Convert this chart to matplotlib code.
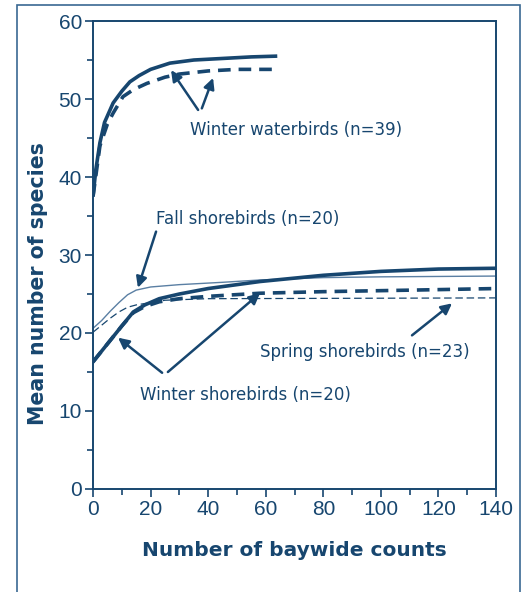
import numpy as np
from matplotlib import pyplot as plt
from matplotlib.patches import Rectangle

navy = '#17466f'

# Winter waterbirds (n=39)
ww_x = [0, 1, 2.4, 4, 7, 10, 12.8, 16, 20, 26.7, 35, 45, 55, 64]
ww_solid = [37.5, 41, 44.4, 47, 49.5, 51, 52.2, 53, 53.8, 54.6, 55, 55.2, 55.4, 55.5]
ww_dash_x = [0, 2.4, 5, 7, 10.4, 14, 18.7, 25, 30, 40, 50, 64]
ww_dash = [37.5, 44, 46.8, 48.2, 50.3, 51.2, 52, 52.8, 53.2, 53.6, 53.8, 53.8]

# Winter shorebirds (n=20)
ws_x = [0, 5, 10, 14, 18, 23, 30, 40, 58, 80, 100, 120, 140]
ws_solid = [16.3, 18.6, 20.9, 22.7, 23.6, 24.4, 25.0, 25.7, 26.6, 27.4, 27.9, 28.2, 28.3]
ws_dash_x = [0, 5, 10, 14, 18, 23, 30, 40, 58, 80, 111, 140]
ws_dash = [16.3, 18.6, 20.9, 22.6, 23.4, 24.0, 24.4, 24.7, 25.1, 25.3, 25.5, 25.7]

# Fall shorebirds (n=20)
fs_x = [0, 3, 6, 9, 12, 15, 20, 30, 45, 58, 80, 100, 140]
fs_y = [20.6, 21.6, 22.8, 23.9, 24.9, 25.5, 25.9, 26.2, 26.5, 26.8, 27.1, 27.2, 27.3]

# Spring shorebirds (n=23)
ss_x = [0, 3, 6, 9, 12, 15, 20, 25, 40, 140]
ss_y = [20.1, 21.0, 21.9, 22.7, 23.3, 23.6, 23.9, 24.2, 24.4, 24.5]

fig = plt.figure(figsize=(5.3, 5.92), dpi=100)
ax = fig.add_axes([0.1755, 0.174, 0.7605, 0.7905])

# outer frame
fig.patches.append(Rectangle((17 / 530, -0.05), 503 / 530, 1.05 - 5 / 592,
                             transform=fig.transFigure, fill=False,
                             edgecolor='#3a6892', linewidth=1.2))

ax.plot(ww_x, ww_solid, color=navy, linewidth=2.6, solid_capstyle='butt')
ax.plot(ww_dash_x, ww_dash, color=navy, linewidth=2.6, linestyle=(0, (3.5, 2.2)))
ax.plot(fs_x, fs_y, color='#5a7fa3', linewidth=1.0)
ax.plot(ss_x, ss_y, color=navy, linewidth=0.9, linestyle=(0, (6, 3)))
ax.plot(ws_x, ws_solid, color=navy, linewidth=2.6)
ax.plot(ws_dash_x, ws_dash, color=navy, linewidth=2.6, linestyle=(0, (3.5, 2.2)))

arrow = dict(arrowstyle='-|>', color=navy, lw=1.8, mutation_scale=16, shrinkA=0, shrinkB=0)
fs = 12

ax.text(33.7, 46.0, 'Winter waterbirds (n=39)', color=navy, fontsize=fs, va='center')
ax.annotate('', xy=(27.1, 53.7), xytext=(36.5, 48.6), arrowprops=arrow)
ax.annotate('', xy=(41.7, 52.7), xytext=(37.8, 48.8), arrowprops=arrow)

ax.text(21.9, 34.6, 'Fall shorebirds (n=20)', color=navy, fontsize=fs, va='center')
ax.annotate('', xy=(15.6, 25.8), xytext=(21.9, 33.0), arrowprops=arrow)

ax.text(58, 17.6, 'Spring shorebirds (n=23)', color=navy, fontsize=fs, va='center')
ax.annotate('', xy=(124.7, 23.8), xytext=(110.8, 19.7), arrowprops=arrow)

ax.text(16.3, 12.1, 'Winter shorebirds (n=20)', color=navy, fontsize=fs, va='center')
ax.annotate('', xy=(8.7, 19.4), xytext=(24, 14.9), arrowprops=arrow)
ax.annotate('', xy=(58, 25.1), xytext=(26, 15.0), arrowprops=arrow)

ax.set_xlim(0, 140)
ax.set_ylim(0, 60)
ax.set_xticks(np.arange(0, 141, 20))
ax.set_xticks(np.arange(0, 141, 10), minor=True)
ax.set_yticks(np.arange(0, 61, 10))
ax.set_yticks(np.arange(0, 61, 5), minor=True)
ax.tick_params(which='both', direction='out', color=navy, width=1.2)
ax.tick_params(which='major', length=6, labelsize=15, labelcolor=navy, pad=2)
ax.tick_params(which='minor', length=4)
for lab in ax.get_xticklabels() + ax.get_yticklabels():
    lab.set_family('Liberation Sans')
for s in ax.spines.values():
    s.set_color(navy)
    s.set_linewidth(1.4)

ax.set_xlabel('Number of baywide counts', fontsize=14.5, fontweight='bold', color=navy,
              labelpad=16)
ax.set_ylabel('Mean number of species', fontsize=14.8, fontweight='bold', color=navy)
ax.yaxis.set_label_coords(-0.112, 0.44)

plt.savefig('out.png', dpi=100)
